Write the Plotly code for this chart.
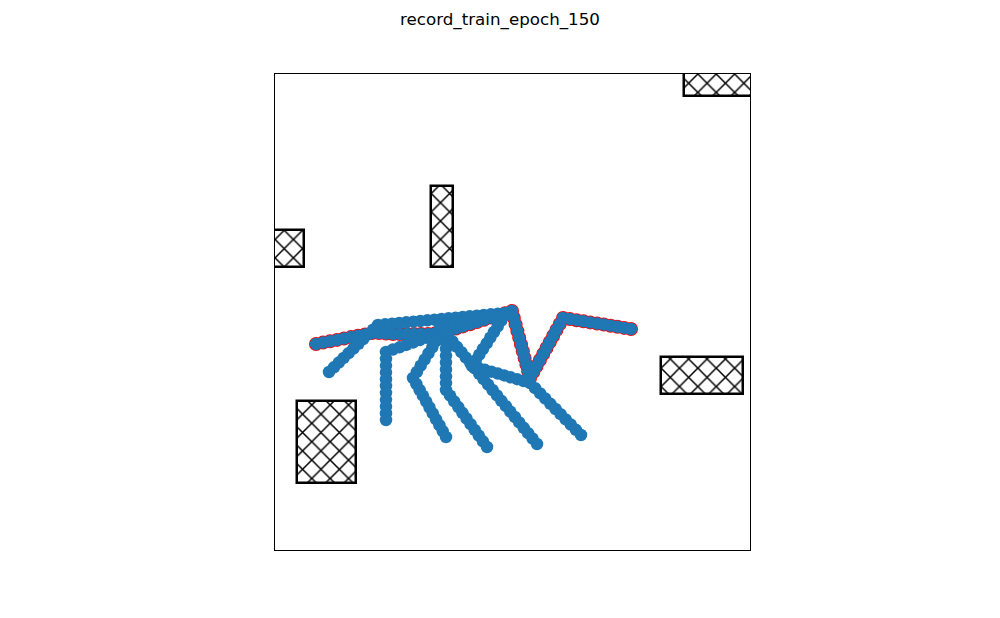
import plotly.graph_objects as go

# ---- data (arbitrary map units: x 0..475, y 0..476) ----
title_text = "record_train_epoch_150"

# obstacles: x0, x1, y0, y1
obs_x0 = [409, 156, -20, 22, 386]
obs_x1 = [500, 178, 29, 81, 468]
obs_y0 = [454, 283, 283, 67, 156]
obs_y1 = [500, 364, 320, 149, 193]

# highlighted (best) trajectory
best_x = [41, 48, 55, 62, 69, 76, 83, 90, 97,
          104, 111, 118, 125, 132, 139, 146, 153, 160, 167,
          174, 181, 188, 195, 202, 209, 216, 223, 230, 237,
          238.8, 240.6, 242.4, 244.2, 246, 247.8, 249.6, 251.4, 253.2, 255,
          258.3, 261.6, 264.9, 268.2, 271.5, 274.8, 278.1, 281.4, 284.7, 288,
          294.8, 301.6, 308.4, 315.2, 322, 328.8, 335.6, 342.4, 349.2, 356]
best_y = [206, 207.4, 208.7, 210.1, 211.5, 212.9, 214.2, 215.6, 217,
          217, 216.5, 216, 216, 216, 216, 216, 216, 216.5, 217,
          219.2, 221.4, 223.6, 225.8, 228, 230.2, 232.4, 234.6, 236.8, 239,
          232.3, 225.6, 218.9, 212.2, 205.5, 198.8, 192.1, 185.4, 178.7, 172,
          178, 184, 190, 196, 202, 208, 214, 220, 226, 232,
          230.9, 229.8, 228.7, 227.6, 226.5, 225.4, 224.3, 223.2, 222.1, 221]

# other trajectories
t1_x = [230, 222.9, 215.9, 208.8, 201.8, 194.7, 187.7, 180.6, 173.6, 166.5, 159.4,
        152.4, 145.3, 138.3, 131.2, 124.2, 117.1, 110.1, 103,
        98.1, 93.2, 88.3, 83.4, 78.5, 73.6, 68.7, 63.8, 58.9, 54]
t1_y = [237, 236.3, 235.7, 235, 234.3, 233.7, 233, 232.3, 231.7, 231, 230.3,
        229.7, 229, 228.3, 227.7, 227, 226.3, 225.7, 225,
        220.3, 215.6, 210.9, 206.2, 201.5, 196.8, 192.1, 187.4, 182.7, 178]

t2_x = [165, 158.3, 151.5, 144.8, 138, 131.3, 124.5, 117.8, 111,
        111, 111, 111, 111, 111, 111, 111, 111, 111, 111]
t2_y = [217, 214.6, 212.2, 209.9, 207.5, 205.1, 202.7, 200.4, 198,
        191.2, 184.4, 177.6, 170.8, 164, 157.2, 150.4, 143.6, 136.8, 130]

t3_x = [165, 161.1, 157.3, 153.4, 149.6, 145.7, 141.9, 138,
        141.3, 144.6, 147.9, 151.2, 154.5, 157.8, 161.1, 164.4, 167.7, 171]
t3_y = [215, 208.9, 202.7, 196.6, 190.4, 184.3, 178.1, 172,
        166.1, 160.2, 154.3, 148.4, 142.5, 136.6, 130.7, 124.8, 118.9, 113]

t4_x = [171, 171, 171, 171, 171, 171, 171, 171, 171,
        175.1, 179.2, 183.3, 187.4, 191.5, 195.6, 199.7, 203.8, 207.9, 212]
t4_y = [215, 208.1, 201.2, 194.4, 187.5, 180.6, 173.7, 166.9, 160,
        154.3, 148.6, 142.9, 137.2, 131.5, 125.8, 120.1, 114.4, 108.7, 103]

t5_x = [173, 177.5, 181.9, 186.4, 190.8, 195.3, 199.7, 204.2, 208.6, 213.1, 217.5,
        222, 226.4, 230.9, 235.3, 239.8, 244.2, 248.7, 253.1, 257.6, 262]
t5_y = [214, 208.6, 203.2, 197.8, 192.4, 187, 181.6, 176.2, 170.8, 165.4, 160,
        154.6, 149.2, 143.8, 138.4, 133, 127.6, 122.2, 116.8, 111.4, 106]

t6_x = [165, 172.2, 179.4, 186.7, 193.9, 201.1, 208.3, 215.6, 222.8, 230,
        226.3, 222.7, 219, 215.3, 211.7, 208, 204.3, 200.7, 197,
        203.4, 209.9, 216.3, 222.8, 229.2, 235.7, 242.1, 248.6, 255,
        260.1, 265.2, 270.3, 275.4, 280.5, 285.6, 290.7, 295.8, 300.9, 306]
t6_y = [224, 225.2, 226.4, 227.7, 228.9, 230.1, 231.3, 232.6, 233.8, 235,
        229.3, 223.7, 218, 212.3, 206.7, 201, 195.3, 189.7, 184,
        182.1, 180.2, 178.3, 176.4, 174.6, 172.7, 170.8, 168.9, 167,
        161.8, 156.6, 151.4, 146.2, 141, 135.8, 130.6, 125.4, 120.2, 115]

others = [(t1_x, t1_y), (t2_x, t2_y), (t3_x, t3_y), (t4_x, t4_y), (t5_x, t5_y), (t6_x, t6_y)]

BLUE = "#1f77b4"
fig = go.Figure()

# obstacles as hatched bars
for x0, x1, y0, y1 in zip(obs_x0, obs_x1, obs_y0, obs_y1):
    fig.add_trace(go.Bar(
        x=[(x0 + x1) / 2], y=[y1 - y0], base=[y0], width=[x1 - x0],
        marker=dict(color="white",
                    line=dict(color="black", width=2.5),
                    pattern=dict(shape="x", fgcolor="black", bgcolor="white",
                                 size=13, solidity=0.22, fgopacity=1)),
        hoverinfo="skip", showlegend=False))

# highlighted trajectory: red halo beneath, blue on top
fig.add_trace(go.Scatter(
    x=best_x, y=best_y, mode="markers",
    marker=dict(size=14, color="red", line=dict(width=0)),
    hoverinfo="skip", showlegend=False))
fig.add_trace(go.Scatter(
    x=best_x, y=best_y, mode="lines+markers",
    line=dict(color=BLUE, width=2),
    marker=dict(size=12.5, color=BLUE, line=dict(width=0)),
    showlegend=False))

for tx, ty in others:
    fig.add_trace(go.Scatter(
        x=tx, y=ty, mode="lines+markers",
        line=dict(color=BLUE, width=2),
        marker=dict(size=12.5, color=BLUE, line=dict(width=0)),
        showlegend=False))

axis_common = dict(showgrid=False, zeroline=False, showticklabels=False, ticks="",
                   showline=True, linecolor="black", linewidth=1, mirror=True)

fig.update_layout(
    width=1000, height=618,
    margin=dict(l=275, r=250, t=74, b=68),
    paper_bgcolor="white", plot_bgcolor="white",
    barmode="overlay", bargap=0,
    title=dict(text=title_text, x=0.5, xref="container", xanchor="center",
               y=1 - 19 / 618, yref="container", yanchor="middle",
               font=dict(family="DejaVu Sans", size=16.7, color="black")),
    xaxis=dict(range=[0, 475], **axis_common),
    yaxis=dict(range=[0, 476], **axis_common),
    showlegend=False,
)

fig.write_html("out.html")
